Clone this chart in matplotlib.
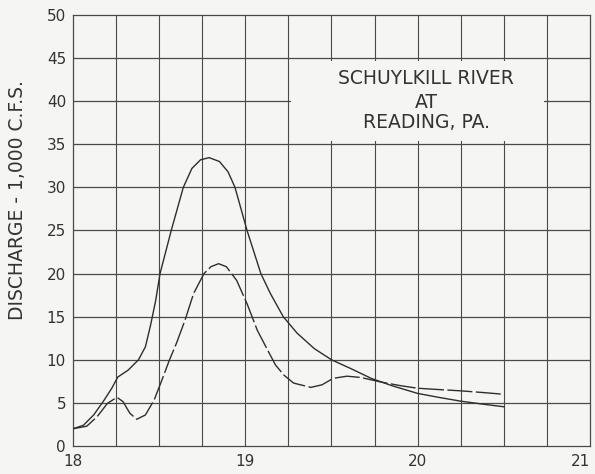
import matplotlib
matplotlib.use('Agg')
import matplotlib.pyplot as plt
from matplotlib.patches import Rectangle

upper_x = [18.0, 18.06, 18.12, 18.18, 18.225, 18.26, 18.32, 18.38, 18.42, 18.45, 18.48, 18.505,
           18.57, 18.64, 18.69, 18.74, 18.79, 18.85, 18.90, 18.94, 19.01, 19.05, 19.09, 19.145,
           19.22, 19.30, 19.40, 19.50, 19.61, 19.73, 19.85, 20.0, 20.12, 20.25, 20.38, 20.5]
upper_y = [2.0, 2.4, 3.6, 5.3, 6.7, 8.0, 8.8, 10.0, 11.5, 14.0, 16.9, 20.0,
           25.0, 30.0, 32.2, 33.2, 33.45, 33.0, 31.8, 30.0, 25.0, 22.5, 20.0, 17.7,
           15.0, 13.1, 11.3, 10.0, 9.0, 7.85, 7.0, 6.1, 5.65, 5.2, 4.85, 4.55]

lower_x = [18.0, 18.08, 18.14, 18.20, 18.255, 18.29, 18.33, 18.37, 18.42, 18.47, 18.515, 18.56,
           18.60, 18.65, 18.70, 18.76, 18.80, 18.845, 18.89, 18.95, 19.01, 19.07, 19.13, 19.175,
           19.225, 19.28, 19.38, 19.445, 19.51, 19.59, 19.67, 19.78, 19.9, 20.0, 20.12, 20.25,
           20.38, 20.5]
lower_y = [2.0, 2.3, 3.4, 4.95, 5.65, 5.15, 3.8, 3.1, 3.6, 5.3, 7.6, 10.0,
           11.9, 14.6, 17.7, 20.0, 20.8, 21.15, 20.8, 19.2, 16.5, 13.4, 11.1, 9.4,
           8.2, 7.3, 6.8, 7.1, 7.85, 8.1, 7.95, 7.45, 7.0, 6.7, 6.55, 6.4,
           6.2, 6.0]

y_ticks = [0, 5, 10, 15, 20, 25, 30, 35, 40, 45, 50]
x_ticks = [18, 19, 20, 21]

title_lines = ['SCHUYLKILL RIVER', 'AT', 'READING, PA.']

paper = '#f5f5f3'
ink = '#2e2e2e'

fig = plt.figure(figsize=(5.95, 4.74), dpi=100, facecolor=paper)
ax = fig.add_axes([73 / 595, 28 / 474, 517 / 595, 431 / 474])
ax.set_facecolor(paper)

ax.set_xlim(18, 21)
ax.set_ylim(0, 50)

# graph paper grid: quarter days and 5,000 c.f.s.
for gx in [18 + 0.25 * i for i in range(1, 12)]:
    ax.axvline(gx, color='#4a4a4a', lw=0.8, zorder=1)
for gy in y_ticks[1:-1]:
    ax.axhline(gy, color='#4a4a4a', lw=0.9, zorder=1)

# blank label panel on the grid
ax.add_patch(Rectangle((19.265, 35.35), 1.47, 9.3, facecolor=paper,
                       edgecolor='none', zorder=2))

ax.plot(upper_x, upper_y, color=ink, lw=1.0, zorder=3, solid_joinstyle='round')
ax.plot(lower_x, lower_y, color=ink, lw=1.0, zorder=3,
        linestyle=(0, (18, 2.5)), dash_joinstyle='round')

for spine in ax.spines.values():
    spine.set_color('#4a4a4a')
    spine.set_linewidth(0.9)

ax.set_xticks(x_ticks)
ax.set_yticks(y_ticks)
ax.tick_params(length=0, labelsize=11, colors='#333333')
ax.tick_params(axis='x', pad=6)
ax.tick_params(axis='y', pad=5)
ax.get_xticklabels()[-1].set_horizontalalignment('right')

for txt, ty in zip(title_lines, [42.6, 39.9, 37.5]):
    ax.text(20.05, ty, txt, ha='center', va='center', fontsize=13.5,
            color='#333333', zorder=4)

fig.text(18 / 595, 1 - 200 / 474, 'DISCHARGE - 1,000 C.F.S.', rotation=90,
         ha='center', va='center', fontsize=13.5, color='#333333')

fig.savefig('out.png', dpi=100, facecolor=paper)
